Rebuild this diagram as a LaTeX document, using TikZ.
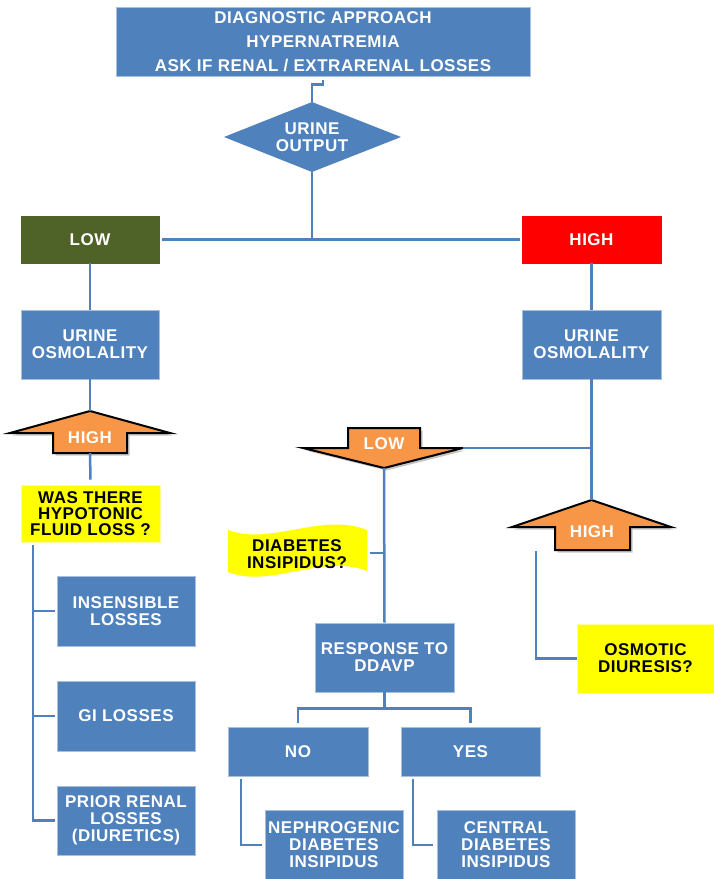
\documentclass[tikz,border=0pt]{standalone}
\usepackage{fontspec}
\setmainfont[LetterSpace=3]{Liberation Sans}
\usetikzlibrary{shadows}
\definecolor{bx}{HTML}{4F81BD}
\definecolor{olive}{HTML}{4F6228}
\definecolor{redbx}{HTML}{FF0000}
\definecolor{orng}{HTML}{F79646}
\definecolor{ylw}{HTML}{FFFF00}
\newcommand\fs{\fontsize{17}{17}\selectfont\bfseries}
\begin{document}
\begin{tikzpicture}[x=1pt,y=-1pt,
  box/.style={fill=bx, draw=bx!50!white, line width=0.8pt, text=white, font=\fs, align=center, inner sep=0pt},
  ybox/.style={fill=ylw, draw=ylw!40!white, line width=0.8pt, text=black, font=\fs, align=center, inner sep=0pt},
  ln/.style={draw=bx, line width=2.5pt},
  arr/.style={fill=orng, draw=black, line width=2pt, line join=miter, drop shadow={opacity=0.45, shadow xshift=2.5pt, shadow yshift=-2.5pt}},
  atxt/.style={text=white, font=\fs, inner sep=0pt}]
\useasboundingbox (0,0) rectangle (714,879);

% title and diamond
\node[box, minimum width=414, minimum height=69, font=\fontsize{17}{24}\selectfont\bfseries] (title) at (323,41.5) {DIAGNOSTIC APPROACH\\HYPERNATREMIA\\ASK IF RENAL / EXTRARENAL LOSSES};
\fill[bx] (224,137) -- (312,102) -- (401,137) -- (312,172) -- cycle;
\coordinate (dtop) at (312,102);
\coordinate (dbot) at (312,172);
\node[atxt, align=center] (dia) at (312,137) {URINE\\OUTPUT};

% low / high
\node[box, fill=olive, draw=olive, minimum width=138, minimum height=47] (low) at (90,239.5) {LOW};
\node[box, fill=redbx, draw=redbx, minimum width=139, minimum height=47] (high) at (591.5,239.5) {HIGH};
\node[box, minimum width=138, minimum height=69] (osmL) at (90,344.5) {URINE\\OSMOLALITY};
\node[box, minimum width=139, minimum height=69] (osmR) at (591.5,344.5) {URINE\\OSMOLALITY};

% left up arrow
\draw[arr] (90,411) -- (170,433) -- (127,433) -- (127,453) -- (53,453) -- (53,433) -- (10,433) -- cycle;
\coordinate (aLtip) at (90,411);
\coordinate (aLbot) at (90,453);
\node[atxt] (aLtxt) at (90,438) {HIGH};

% middle down arrow
\draw[arr] (348,428) -- (420,428) -- (420,448) -- (463,448) -- (384,468) -- (303,448) -- (348,448) -- cycle;
\coordinate (aDwing) at (463,448);
\coordinate (aDtip) at (384,468);
\node[atxt] (aDtxt) at (384,444) {LOW};

% right up arrow
\draw[arr] (591.5,500) -- (671,527) -- (630,527) -- (630,550) -- (555,550) -- (555,527) -- (512,527) -- cycle;
\coordinate (aRtip) at (591.5,500);
\node[atxt] (aRtxt) at (592,532) {HIGH};
\coordinate (aRfree) at (536,551);

% left branch
\node[ybox, minimum width=139, minimum height=57, font=\fontsize{17}{16}\selectfont\bfseries] (hypo) at (90.5,513.5) {WAS THERE\\HYPOTONIC\\FLUID LOSS ?};
\node[box, minimum width=138, minimum height=70] (ins) at (126,611) {INSENSIBLE\\LOSSES};
\node[box, minimum width=138, minimum height=70] (gi) at (126,716) {GI LOSSES};
\node[box, minimum width=138, minimum height=69] (prior) at (126,820.5) {PRIOR RENAL\\LOSSES\\(DIURETICS)};
\coordinate (lv) at (33,545);

% wave
\fill[ylw] (228,530) .. controls (270,546) and (322,512) .. (367,530) -- (367,571) .. controls (322,553) and (270,589) .. (228,572) -- cycle;
\node[text=black, font=\fs, align=center, inner sep=0pt] (wave) at (297,554) {DIABETES\\INSIPIDUS?};
\coordinate (wr) at (370,553);

% middle
\node[box, minimum width=139, minimum height=69] (resp) at (384.5,657.5) {RESPONSE TO\\DDAVP};
\node[box, minimum width=140, minimum height=49] (no) at (298,751.5) {NO};
\node[box, minimum width=139, minimum height=49] (yes) at (470.5,751.5) {YES};
\node[box, minimum width=138, minimum height=70] (neph) at (334,845) {NEPHROGENIC\\DIABETES\\INSIPIDUS};
\node[box, minimum width=138, minimum height=70] (cent) at (506,845) {CENTRAL\\DIABETES\\INSIPIDUS};

% right
\node[ybox, minimum width=137, minimum height=69] (osmo) at (645.5,658.5) {OSMOTIC\\DIURESIS?};

% connectors
\draw[ln] ([yshift=-4pt]title.south) -- ++(0,4) -- ++(-11,0) -- (dtop);
\draw[ln] (dbot) -- (dbot |- low.east);
\draw[ln] ([xshift=3pt]low.east) -- ([xshift=-2pt]high.west);
\draw[ln] (low.south) -- (osmL.north);
\draw[ln] (high.south) -- (osmR.north);
\draw[ln] (osmL.south) -- (aLtip);
\draw[ln] (aLbot) -- ([yshift=5pt]hypo.north);
\draw[ln] (lv) |- ([xshift=-2pt]prior.west);
\draw[ln] (lv |- ins.west) -- ([xshift=-2pt]ins.west);
\draw[ln] (lv |- gi.west) -- ([xshift=-2pt]gi.west);
\draw[ln] (osmR.south) -- (aRtip);
\draw[ln] (aDwing) -- (osmR.south |- aDwing);
\draw[ln] (aDtip) -- (resp.north);
\draw[ln] (wr) -- (aDtip |- wr);
\draw[ln] (aRfree) |- (osmo.west);
\draw[ln] (resp.south) -- ++(0,16) coordinate (rj);
\draw[ln] ([yshift=4pt]no.north) |- (rj) -| ([yshift=4pt]yes.north);
\draw[ln] ([xshift=-57pt,yshift=-3pt]no.south) |- ([xshift=-3pt]neph.west);
\draw[ln] ([xshift=-57.5pt,yshift=-3pt]yes.south) |- ([xshift=-4pt]cent.west);
\end{tikzpicture}
\end{document}
